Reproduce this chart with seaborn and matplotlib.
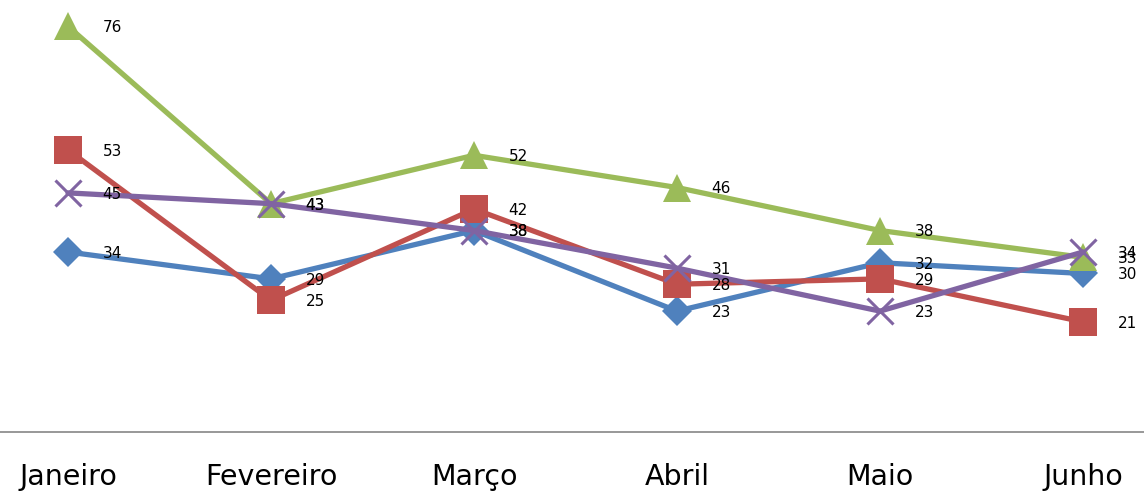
import matplotlib
matplotlib.use("Agg")
import matplotlib.pyplot as plt
import seaborn as sns
import pandas as pd

months = ["Janeiro", "Fevereiro", "Março", "Abril", "Maio", "Junho"]
serie1 = [34, 29, 38, 23, 32, 30]   # blue diamonds
serie2 = [53, 25, 42, 28, 29, 21]   # red squares
serie3 = [76, 43, 52, 46, 38, 33]   # green triangles
serie4 = [45, 43, 38, 31, 23, 34]   # purple crosses

series = {"Série 1": serie1, "Série 2": serie2, "Série 3": serie3, "Série 4": serie4}
colors = {"Série 1": "#4F81BD", "Série 2": "#C0504D", "Série 3": "#9BBB59", "Série 4": "#8064A2"}
markers = {"Série 1": "D", "Série 2": "s", "Série 3": "^", "Série 4": "x"}
msizes = {"Série 1": 15, "Série 2": 19.5, "Série 3": 19.5, "Série 4": 19}

rows = []
for name, vals in series.items():
    for m, v in zip(months, vals):
        rows.append({"mes": m, "valor": v, "serie": name})
df = pd.DataFrame(rows)

sns.set_theme(style="white")
fig = plt.figure(figsize=(11.44, 4.95), dpi=100)
ax = fig.add_axes([0, (495 - 432) / 495, 1, 432 / 495])

for name in series:
    sub = df[df["serie"] == name]
    mk = markers[name]
    kw = dict(markeredgewidth=2.2, markeredgecolor=colors[name]) if mk == "x" else dict(markeredgewidth=0)
    sns.lineplot(data=sub, x="mes", y="valor", color=colors[name], marker=mk,
                 markersize=msizes[name], linewidth=3.8, ax=ax, sort=False, **kw)
    for i, v in enumerate(sub["valor"]):
        ax.annotate(str(v), (i, v), xytext=(25, -1), textcoords="offset points",
                    ha="left", va="center", fontsize=11, family="DejaVu Sans", color="black")

ax.set_xlim(-68 / 203, (1144 - 68) / 203)
ax.set_ylim(0.5, 80.9)
ax.set_xlabel("")
ax.set_ylabel("")
ax.set_yticks([])
ax.set_xticks(range(len(months)))
ax.set_xticklabels(months, fontsize=20.5, family="DejaVu Sans", color="black")
ax.tick_params(axis="x", length=0, pad=22)
for s in ["top", "left", "right"]:
    ax.spines[s].set_visible(False)
ax.spines["bottom"].set_color("#868686")
ax.spines["bottom"].set_linewidth(1.2)
ax.grid(False)
if ax.get_legend():
    ax.get_legend().remove()

fig.savefig("out.png", dpi=100)
